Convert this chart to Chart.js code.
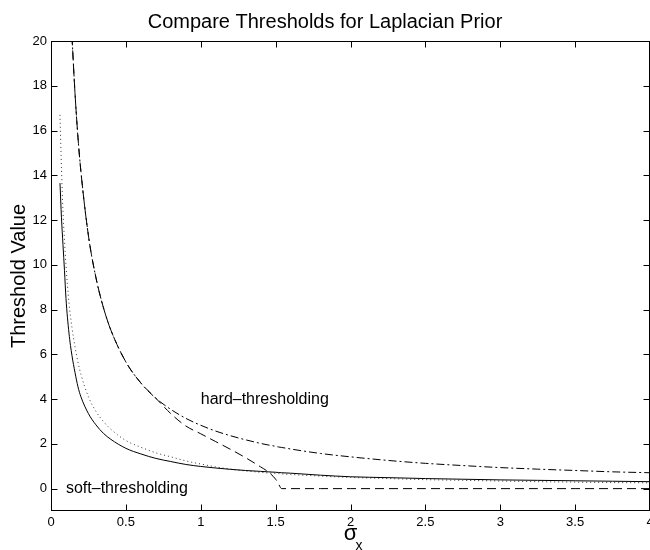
<!DOCTYPE html>
<html><head><meta charset="utf-8">
<script src="https://cdn.jsdelivr.net/npm/chart.js@4.4.0/dist/chart.umd.min.js"></script>
<style>html,body{margin:0;padding:0;background:#fff;} #wrap{width:650px;height:550px;}</style>
</head><body><div id="wrap"><canvas id="c" width="650" height="550"></canvas></div>
<script>
const sigmaX = [0.06, 0.07, 0.08, 0.09, 0.10, 0.12, 0.14, 0.16, 0.18, 0.20, 0.25, 0.30, 0.35, 0.40, 0.50, 0.60, 0.70, 0.80, 0.90, 1.00, 1.10, 1.20, 1.30, 1.40, 1.45, 1.50, 1.52, 1.54, 1.60, 1.80, 2.00, 2.25, 2.50, 2.75, 3.00, 3.25, 3.50, 3.75, 4.00];
const softVals = [13.65, 12.1, 10.9, 9.75, 8.5, 6.95, 5.95, 5.2, 4.55, 4.1, 3.35, 2.85, 2.47, 2.2, 1.8, 1.55, 1.35, 1.21, 1.08, 0.99, 0.92, 0.86, 0.81, 0.77, 0.75, 0.73, 0.72, 0.71, 0.69, 0.6, 0.53, 0.49, 0.45, 0.42, 0.39, 0.37, 0.35, 0.33, 0.31];
const dottedVals = [16.7, 14.3, 12.4, 11.1, 10.0, 8.3, 7.2, 6.35, 5.65, 5.1, 4.1, 3.45, 3.0, 2.65, 2.15, 1.85, 1.6, 1.42, 1.24, 1.1, 0.97, 0.87, 0.79, 0.73, 0.7, 0.68, 0.67, 0.66, 0.63, 0.56, 0.5, 0.45, 0.4, 0.37, 0.34, 0.31, 0.29, 0.27, 0.26];
const hardVals = [null, null, null, null, null, null, 20.2, 17.7, 15.7, 14.15, 11.3, 9.43, 8.09, 7.08, 5.66, 4.72, 4.04, 3.54, 3.14, 2.83, 2.57, 2.36, 2.18, 2.02, 1.95, 1.89, 1.86, 1.84, 1.77, 1.57, 1.42, 1.26, 1.13, 1.03, 0.94, 0.87, 0.81, 0.75, 0.71];
const dashedVals = [null, null, null, null, null, null, 20.2, 17.7, 15.7, 14.15, 11.3, 9.43, 8.09, 7.08, 5.66, 4.72, 4.04, 3.35, 2.8, 2.45, 2.1, 1.75, 1.38, 0.97, 0.75, 0.42, 0.2, 0, 0, 0, 0, 0, 0, 0, 0, 0, 0, 0, 0];
const xTicks = [0, 0.5, 1, 1.5, 2, 2.5, 3, 3.5, 4];
const xTickLabels = ['0', '0.5', '1', '1.5', '2', '2.5', '3', '3.5', '4'];
const yTicks = [0, 2, 4, 6, 8, 10, 12, 14, 16, 18, 20];
const yTickLabels = ['0', '2', '4', '6', '8', '10', '12', '14', '16', '18', '20'];
const notes = ['hard\u2013thresholding', 'soft\u2013thresholding'];
const noteX = [1.0, 0.1];
const noteY = [4.0, 0.0];
const xTitleMain = '\u03c3';
const xTitleSub = 'x';

const FONT = "'Liberation Sans', Arial, Helvetica, sans-serif";
Chart.defaults.font.family = FONT;
Chart.defaults.color = '#000';

const pts = arr => sigmaX.map((x, i) => ({x: x, y: arr[i]}));

const framePlugin = {
  id: 'frame',
  afterDatasetsDraw(chart) {
    const {ctx, chartArea: a, scales: {x, y}} = chart;
    ctx.save();
    ctx.strokeStyle = '#000';
    ctx.lineWidth = 1;
    const L = Math.round(a.left) + 0.5, R = Math.round(a.right) - 0.5;
    const T = Math.round(a.top) + 0.5, B = Math.round(a.bottom) - 0.5;
    ctx.strokeRect(L, T, R - L, B - T);
    ctx.beginPath();
    const tl = 6;
    x.ticks.forEach(t => {
      const px = Math.round(x.getPixelForValue(t.value)) + 0.5;
      ctx.moveTo(px, B); ctx.lineTo(px, B - tl);
      ctx.moveTo(px, T); ctx.lineTo(px, T + tl);
    });
    y.ticks.forEach(t => {
      const py = Math.round(y.getPixelForValue(t.value)) + 0.5;
      ctx.moveTo(L, py); ctx.lineTo(L + tl, py);
      ctx.moveTo(R, py); ctx.lineTo(R - tl, py);
    });
    ctx.stroke();
    ctx.fillStyle = '#000';
    ctx.font = '16px ' + FONT;
    ctx.textBaseline = 'middle';
    ctx.textAlign = 'left';
    notes.forEach((s, i) => ctx.fillText(s, x.getPixelForValue(noteX[i]), y.getPixelForValue(noteY[i])));
    // subscript of the x-axis title
    ctx.font = '14px ' + FONT;
    ctx.textBaseline = 'alphabetic';
    ctx.fillText(xTitleSub, (a.left + a.right) / 2 + 5, chart.height);
    ctx.restore();
  }
};

new Chart(document.getElementById('c'), {
  type: 'line',
  data: {
    datasets: [
      {label: 'soft', data: pts(softVals), borderColor: '#000', borderWidth: 1, pointRadius: 0, cubicInterpolationMode: 'monotone'},
      {label: 'dotted', data: pts(dottedVals), borderColor: '#333', borderWidth: 1, borderDash: [1, 3], pointRadius: 0, cubicInterpolationMode: 'monotone'},
      {label: 'hard', data: pts(hardVals), borderColor: '#000', borderWidth: 1, borderDash: [8, 3, 2, 3], pointRadius: 0, cubicInterpolationMode: 'monotone'},
      {label: 'dashed', data: pts(dashedVals), borderColor: '#000', borderWidth: 1, borderDash: [9, 5], pointRadius: 0, cubicInterpolationMode: 'monotone'}
    ]
  },
  options: {
    responsive: false,
    animation: false,
    devicePixelRatio: 1,
    layout: {padding: 0},
    plugins: {
      legend: {display: false},
      tooltip: {enabled: false},
      title: {display: true, text: 'Compare Thresholds for Laplacian Prior', color: '#000',
        font: {size: 20, weight: 'normal'}, padding: {top: 10, bottom: 7}}
    },
    scales: {
      x: {
        type: 'linear', min: 0, max: 4,
        afterBuildTicks: s => { s.ticks = xTicks.map(v => ({value: v})); },
        afterFit: s => { s.height = 39; s.paddingLeft = 0; s.paddingRight = 0; },
        ticks: {callback: (v, i) => xTickLabels[i], padding: 4, color: '#000', font: {size: 13}, maxRotation: 0, autoSkip: false},
        grid: {display: false, drawTicks: false},
        border: {display: false},
        title: {display: true, text: xTitleMain, color: '#000', font: {size: 22}, padding: {top: 0, bottom: 3}}
      },
      y: {
        type: 'linear', min: -1, max: 20,
        afterBuildTicks: s => { s.ticks = yTicks.map(v => ({value: v})); },
        afterFit: s => { s.width = 51; },
        ticks: {callback: (v, i) => yTickLabels[i], padding: 4, color: '#000', font: {size: 13}, autoSkip: false},
        grid: {display: false, drawTicks: false},
        border: {display: false},
        title: {display: true, text: 'Threshold Value', color: '#000', font: {size: 20}, padding: {top: 7, bottom: 0}}
      }
    }
  },
  plugins: [framePlugin]
});
</script>
</body></html>
